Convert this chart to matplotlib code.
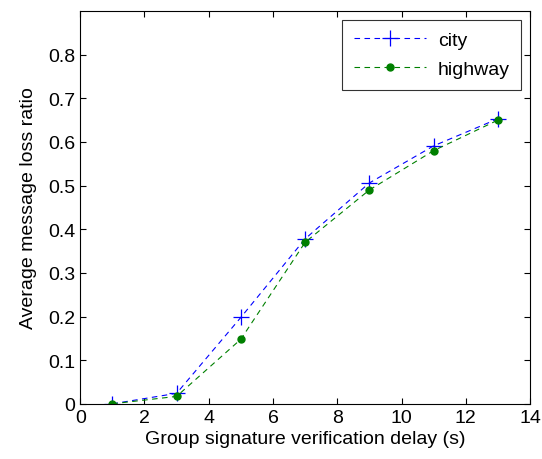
import matplotlib
matplotlib.use('Agg')
import matplotlib.pyplot as plt

plt.rcParams['font.family'] = ['Liberation Sans', 'DejaVu Sans']
plt.rcParams['font.size'] = 14

# Data
delay = [1, 3, 5, 7, 9, 11, 13]
city = [0.0, 0.024, 0.198, 0.378, 0.506, 0.591, 0.653]
highway = [0.0, 0.017, 0.148, 0.370, 0.490, 0.580, 0.650]

fig = plt.figure(figsize=(5.42, 4.6), dpi=100)
ax = fig.add_axes([0.148, 0.12, 0.83, 0.854])

ax.plot(delay, city, linestyle=(0, (5, 4)), color='blue', linewidth=0.8,
        marker='+', markersize=11, markeredgewidth=0.9, label='city')
ax.plot(delay, highway, linestyle=(0, (5, 4)), color='green', linewidth=0.8,
        marker='o', markersize=5, label='highway')

ax.set_xlim(0, 14)
ax.set_ylim(0, 0.9)
ax.set_xticks(range(0, 15, 2))
ax.set_yticks([0, 0.1, 0.2, 0.3, 0.4, 0.5, 0.6, 0.7, 0.8])
ax.set_yticklabels(['0', '0.1', '0.2', '0.3', '0.4', '0.5', '0.6', '0.7', '0.8'])
ax.tick_params(direction='in', top=True, right=True, length=4)

ax.set_xlabel('Group signature verification delay (s)', labelpad=3)
ax.set_ylabel('Average message loss ratio', labelpad=8)

leg = ax.legend(loc='upper right', fancybox=False, edgecolor='black',
                handlelength=3.7, borderpad=0.6, labelspacing=0.6,
                borderaxespad=0.45, handletextpad=0.6)
leg.get_frame().set_linewidth(0.8)

fig.savefig('out.png', dpi=100)
